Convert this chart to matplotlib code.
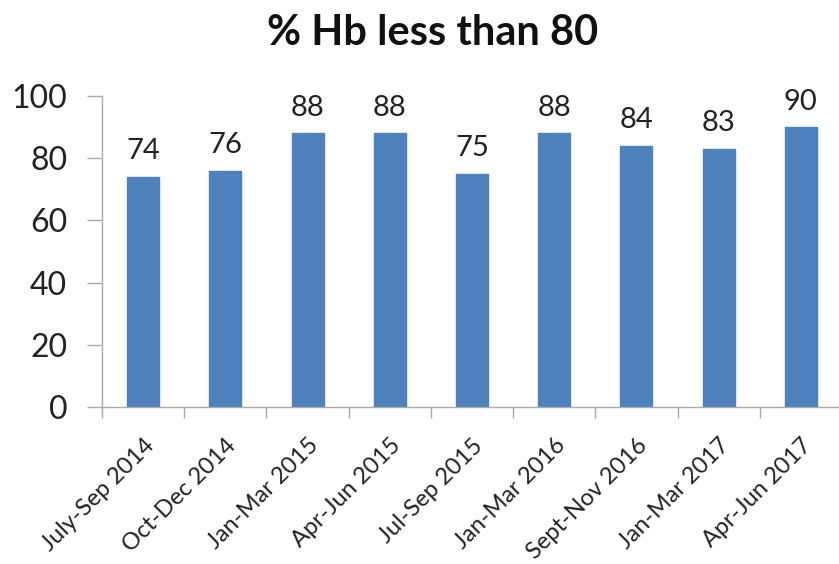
import numpy as np
import matplotlib
matplotlib.use("Agg")
import matplotlib.pyplot as plt
from matplotlib.ticker import FixedLocator

periods = ["July-Sep 2014", "Oct-Dec 2014", "Jan-Mar 2015", "Apr-Jun 2015",
           "Jul-Sep 2015", "Jan-Mar 2016", "Sept-Nov 2016", "Jan-Mar 2017",
           "Apr-Jun 2017"]
pct_hb = [74, 76, 88, 88, 75, 88, 84, 83, 90]
y_ticks = [0, 20, 40, 60, 80, 100]

plt.rcParams['font.family'] = ['Lato', 'DejaVu Sans']

fig = plt.figure(figsize=(8.39, 5.64), dpi=100)
ax = fig.add_axes([102 / 839, 157 / 564, 737 / 839, 311 / 564])

x = np.arange(len(periods))
bars = ax.bar(x, pct_hb, width=0.39, color='#4F81BD', edgecolor='#4F81BD')

for xi, v in zip(x, pct_hb):
    ax.text(xi, v + 4, str(v), ha='center', va='bottom', fontsize=21, color='#222222')

ax.set_ylim(0, 100)
ax.set_xlim(-0.5, len(periods) - 0.5 - 0.036)
ax.set_yticks(y_ticks)
ax.tick_params(axis='y', labelsize=23, length=11, width=1, color='#aaaaaa',
               pad=14, labelcolor='#222222')

ax.set_xticks(x)
ax.set_xticklabels(periods, rotation=45, ha='right', rotation_mode='anchor',
                   fontsize=17, color='#222222')
ax.tick_params(axis='x', which='major', length=0, pad=20)
ax.xaxis.set_minor_locator(FixedLocator(np.arange(-0.5, len(periods), 1.0)))
ax.tick_params(axis='x', which='minor', length=8, width=1, color='#aaaaaa')

for side in ['top', 'right']:
    ax.spines[side].set_visible(False)
for side in ['left', 'bottom']:
    ax.spines[side].set_color('#aaaaaa')
    ax.spines[side].set_linewidth(1)

fig.text(433 / 839, 1 - 33 / 564, "% Hb less than 80", ha='center', va='center',
         fontsize=30, fontweight='bold', color='#111111')

fig.savefig("out.png", dpi=100)
